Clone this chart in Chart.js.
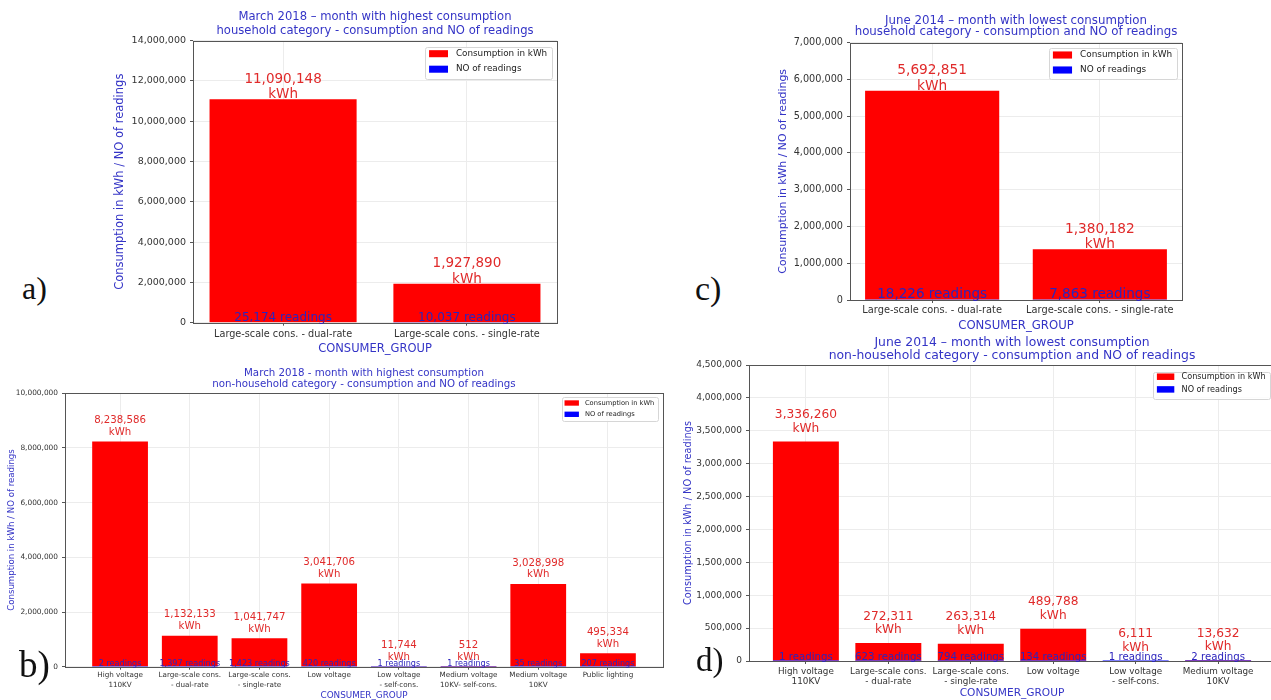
<!DOCTYPE html>
<html>
<head>
<meta charset="utf-8">
<title>Consumption and number of readings by consumer group</title>
<script src="https://cdn.jsdelivr.net/npm/chart.js@4.4.1/dist/chart.umd.min.js"></script>
<style>
  html, body { margin: 0; padding: 0; background: #fff; }
  body { position: relative; width: 1271px; height: 700px; overflow: hidden; }
  canvas { position: absolute; }
  .tag { position: absolute; font-family: "Liberation Serif", "Times New Roman", serif; line-height: 1; color: #111; }
</style>
</head>
<body>
<canvas id="chartA"></canvas>
<canvas id="chartC"></canvas>
<canvas id="chartB"></canvas>
<canvas id="chartD"></canvas>
<div class="tag" style="left:22px;top:272px;font-size:32px">a)</div>
<div class="tag" style="left:19px;top:646px;font-size:37px">b)</div>
<div class="tag" style="left:695px;top:272px;font-size:34px">c)</div>
<div class="tag" style="left:696px;top:644px;font-size:33px">d)</div>
<script>
// ---- data ----
const HOUSEHOLD_GROUPS = ["Large-scale cons. - dual-rate", "Large-scale cons. - single-rate"];
const MAR18_HH_KWH = [11090148, 1927890];
const MAR18_HH_READINGS = [25174, 10037];
const JUN14_HH_KWH = [5692851, 1380182];
const JUN14_HH_READINGS = [18226, 7863];

const MAR18_NHH_GROUPS = [
  ["High voltage", "110KV"],
  ["Large-scale cons.", "- dual-rate"],
  ["Large-scale cons.", "- single-rate"],
  ["Low voltage"],
  ["Low voltage", "- self-cons."],
  ["Medium voltage", "10KV- self-cons."],
  ["Medium voltage", "10KV"],
  ["Public lighting"]
];
const MAR18_NHH_KWH = [8238586, 1132133, 1041747, 3041706, 11744, 512, 3028998, 495334];
const MAR18_NHH_READINGS = [2, 1397, 1423, 420, 1, 1, 35, 207];

const JUN14_NHH_GROUPS = [
  ["High voltage", "110KV"],
  ["Large-scale cons.", "- dual-rate"],
  ["Large-scale cons.", "- single-rate"],
  ["Low voltage"],
  ["Low voltage", "- self-cons."],
  ["Medium voltage", "10KV"]
];
const JUN14_NHH_KWH = [3336260, 272311, 263314, 489788, 6111, 13632];
const JUN14_NHH_READINGS = [1, 623, 794, 134, 1, 2];

const SERIES_LABELS = ["Consumption in kWh", "NO of readings"];
const Y_TITLE = "Consumption in kWh / NO of readings";
const X_TITLE = "CONSUMER_GROUP";

// ---- styling ----
const BLUE_TEXT = "#3434c6";
const RED_TEXT = "#e02a2a";
const READ_TEXT = "#2c24bd";
const FAMILY = '"DejaVu Sans", sans-serif';
Chart.defaults.font.family = FAMILY;

const fmt = v => v.toLocaleString("en-US");

// ---- panels (page geometry of each plot frame) ----
const PANELS = [
  {
    id: "chartA", groups: HOUSEHOLD_GROUPS, kwh: MAR18_HH_KWH, readings: MAR18_HH_READINGS,
    title: ["March 2018 \u2013 month with highest consumption", "household category - consumption and NO of readings"],
    yMax: 14000000, yStep: 2000000,
    box: { left: 193, right: 557, top: 40.7, bottom: 322.7 }, canvasTop: 0,
    yTitleX: 120, xTitleY: 348.5, titleY: [17.3, 30.7],
    font: { tick: 9.5, cat: 9.7, catLine: 1.2, title: 11.6, yTitle: 11.5, xTitle: 11.5, value: 13.5, reading: 12 },
    tickPad: 3, valueGap: 4.6, valueLine: 15.7, readingGap: 4.7,
    legend: { size: 8.8, inset: 5, insetTop: 6.3, first: 6.7, row: 15.5, height: 32 }
  },
  {
    id: "chartC", groups: HOUSEHOLD_GROUPS, kwh: JUN14_HH_KWH, readings: JUN14_HH_READINGS,
    title: ["June 2014 \u2013 month with lowest consumption", "household category - consumption and NO of readings"],
    yMax: 7000000, yStep: 1000000,
    box: { left: 850, right: 1182, top: 42.7, bottom: 300 }, canvasTop: 0,
    yTitleX: 783, xTitleY: 325, titleY: [20.7, 32.3],
    font: { tick: 9.7, cat: 9.8, catLine: 1.2, title: 11.8, yTitle: 10.9, xTitle: 11.7, value: 13.7, reading: 13.5 },
    tickPad: 2, valueGap: 4.7, valueLine: 15.3, readingGap: 5,
    legend: { size: 8.9, inset: 5, insetTop: 5.6, first: 6.7, row: 15, height: 31 }
  },
  {
    id: "chartB", groups: MAR18_NHH_GROUPS, kwh: MAR18_NHH_KWH, readings: MAR18_NHH_READINGS,
    title: ["March 2018 - month with highest consumption", "non-household category - consumption and NO of readings"],
    yMax: 10000000, yStep: 2000000,
    box: { left: 65, right: 663, top: 393.3, bottom: 666.7 }, canvasTop: 360,
    yTitleX: 12, xTitleY: 695, titleY: [373, 384.7],
    font: { tick: 7.4, cat: 7.2, catLine: 1.35, title: 10.25, yTitle: 8.6, xTitle: 8.8, value: 10.2, reading: 8.1 },
    tickPad: 1, valueGap: 9.3, valueLine: 11.7, readingGap: 2.7,
    legend: { size: 6.7, inset: 5, insetTop: 4, first: 5.7, row: 11.3, height: 24.4 }
  },
  {
    id: "chartD", groups: JUN14_NHH_GROUPS, kwh: JUN14_NHH_KWH, readings: JUN14_NHH_READINGS,
    title: ["June 2014 \u2013 month with lowest consumption", "non-household category - consumption and NO of readings"],
    yMax: 4500000, yStep: 500000,
    box: { left: 749, right: 1275, top: 365, bottom: 661 }, canvasTop: 334,
    yTitleX: 688, xTitleY: 693, titleY: [342.7, 356],
    font: { tick: 9, cat: 8.8, catLine: 1.1, title: 12.4, yTitle: 9.8, xTitle: 10.6, value: 12.2, reading: 10.2 },
    tickPad: 3, valueGap: 13, valueLine: 13.5, readingGap: 2.7,
    legend: { size: 8.1, inset: 5, insetTop: 6.7, first: 5, row: 12.7, height: 26.6 }
  }
];

// ---- plugins ----
const frame = {
  id: "frame",
  afterDatasetsDraw(chart) {
    const { ctx, chartArea: a } = chart;
    ctx.save();
    ctx.strokeStyle = "#555";
    ctx.lineWidth = 1;
    const l = Math.round(a.left) + 0.5, t = Math.round(a.top) + 0.5;
    ctx.strokeRect(l, t, Math.round(a.right) - Math.round(a.left), Math.round(a.bottom) - Math.round(a.top));
    ctx.restore();
  }
};

const panelTitle = {
  id: "panelTitle",
  afterDraw(chart, args, o) {
    const { ctx, chartArea: a } = chart;
    ctx.save();
    ctx.fillStyle = BLUE_TEXT;
    ctx.font = `${o.size}px ${FAMILY}`;
    ctx.textAlign = "center";
    ctx.textBaseline = "middle";
    o.lines.forEach((t, i) => ctx.fillText(t, (a.left + a.right) / 2, o.y[i]));
    ctx.restore();
  }
};

const barLabels = {
  id: "barLabels",
  afterDraw(chart, args, o) {
    const ctx = chart.ctx;
    const kwhBars = chart.getDatasetMeta(0).data;
    const readBars = chart.getDatasetMeta(1).data;
    const kwh = chart.data.datasets[0].data;
    const reads = chart.data.datasets[1].data;
    ctx.save();
    ctx.textAlign = "center";
    ctx.textBaseline = "middle";
    ctx.font = `${o.valueSize}px ${FAMILY}`;
    ctx.fillStyle = RED_TEXT;
    kwhBars.forEach((bar, i) => {
      const y = bar.y - o.valueGap;
      ctx.fillText(fmt(kwh[i].y), bar.x, y - o.valueLine);
      ctx.fillText("kWh", bar.x, y);
    });
    ctx.font = `${o.readingSize}px ${FAMILY}`;
    ctx.fillStyle = READ_TEXT;
    readBars.forEach((bar, i) => {
      ctx.fillText(fmt(reads[i].y) + " readings", bar.x, bar.base - o.readingGap);
    });
    ctx.restore();
  }
};

const insideLegend = {
  id: "insideLegend",
  afterDraw(chart, args, o) {
    const { ctx, chartArea: a } = chart;
    const f = o.size;
    ctx.save();
    ctx.font = `${f}px ${FAMILY}`;
    const items = chart.data.datasets.map(d => ({ text: d.label, color: d.backgroundColor }));
    const textW = Math.max(...items.map(it => ctx.measureText(it.text).width));
    const pad = 0.45 * f, swW = 2.15 * f, swH = 0.8 * f, gap = 0.9 * f;
    const w = pad + swW + gap + textW + 0.55 * f;
    const x = a.right - o.inset - w, y = a.top + o.insetTop;
    ctx.beginPath();
    ctx.roundRect(Math.round(x) + 0.5, Math.round(y) + 0.5, Math.round(w), Math.round(o.height), 2);
    ctx.fillStyle = "rgba(255,255,255,0.85)";
    ctx.fill();
    ctx.strokeStyle = "#d6d6d6";
    ctx.lineWidth = 1;
    ctx.stroke();
    ctx.textAlign = "left";
    ctx.textBaseline = "middle";
    items.forEach((it, i) => {
      const cy = y + o.first + i * o.row;
      ctx.fillStyle = it.color;
      ctx.fillRect(x + pad, cy - swH / 2, swW, swH);
      ctx.fillStyle = "#222";
      ctx.fillText(it.text, x + pad + swW + gap, cy);
    });
    ctx.restore();
  }
};

// ---- build ----
function buildPanel(p) {
  const canvas = document.getElementById(p.id);
  const left = Math.floor(p.yTitleX - 12);
  const bottom = Math.ceil(p.xTitleY + p.font.xTitle * 0.6 + 2);
  const width = Math.ceil(p.box.right - left + 4);
  const height = bottom - p.canvasTop;
  canvas.width = width;
  canvas.height = height;
  canvas.style.left = left + "px";
  canvas.style.top = p.canvasTop + "px";
  canvas.style.width = width + "px";
  canvas.style.height = height + "px";

  // bars are 0.8 wide at 0..n-1, with 5% side margins
  const n = p.groups.length;
  const margin = 0.05 * (n - 1 + 0.8);

  new Chart(canvas, {
    type: "bar",
    data: {
      datasets: [
        { label: SERIES_LABELS[0], data: p.kwh.map((v, i) => ({ x: i, y: v })), backgroundColor: "#ff0000", order: 1 },
        { label: SERIES_LABELS[1], data: p.readings.map((v, i) => ({ x: i, y: v })), backgroundColor: "#0000ff", order: 0 }
      ]
    },
    options: {
      responsive: false,
      animation: false,
      devicePixelRatio: 1,
      layout: { padding: { left: 0, top: p.box.top - p.canvasTop, right: width - (p.box.right - left), bottom: 0 } },
      datasets: { bar: { grouped: false, barPercentage: 1, categoryPercentage: 0.8 } },
      scales: {
        x: {
          type: "linear",
          offset: false,
          bounds: "data",
          min: -0.4 - margin,
          max: n - 1 + 0.4 + margin,
          afterBuildTicks: s => { s.ticks = p.groups.map((_, i) => ({ value: i })); },
          afterFit: s => { s.height = bottom - p.box.bottom; },
          ticks: {
            callback: v => p.groups[v],
            color: "#333",
            font: { size: p.font.cat, lineHeight: p.font.catLine },
            padding: p.tickPad,
            autoSkip: false,
            maxRotation: 0
          },
          grid: { offset: false, color: "#ececec", tickColor: "#555", tickLength: 3 },
          border: { display: false },
          title: { display: true, text: X_TITLE, color: BLUE_TEXT, font: { size: p.font.xTitle }, padding: { top: 0, bottom: 2 } }
        },
        y: {
          min: 0,
          max: p.yMax,
          afterFit: s => { s.width = p.box.left - left; },
          ticks: { stepSize: p.yStep, callback: v => fmt(v), color: "#333", font: { size: p.font.tick }, padding: 4 },
          grid: { color: "#ececec", tickColor: "#555", tickLength: 3 },
          border: { display: false },
          title: {
            display: true, text: Y_TITLE, color: BLUE_TEXT, font: { size: p.font.yTitle },
            padding: { top: p.yTitleX - left - p.font.yTitle * 0.6, bottom: 0 }
          }
        }
      },
      plugins: {
        legend: { display: false },
        tooltip: { enabled: false },
        panelTitle: { lines: p.title, size: p.font.title, y: p.titleY.map(v => v - p.canvasTop) },
        barLabels: {
          valueSize: p.font.value, readingSize: p.font.reading,
          valueGap: p.valueGap, valueLine: p.valueLine, readingGap: p.readingGap
        },
        insideLegend: p.legend
      }
    },
    plugins: [frame, panelTitle, barLabels, insideLegend]
  });
}

PANELS.forEach(buildPanel);
</script>
</body>
</html>
